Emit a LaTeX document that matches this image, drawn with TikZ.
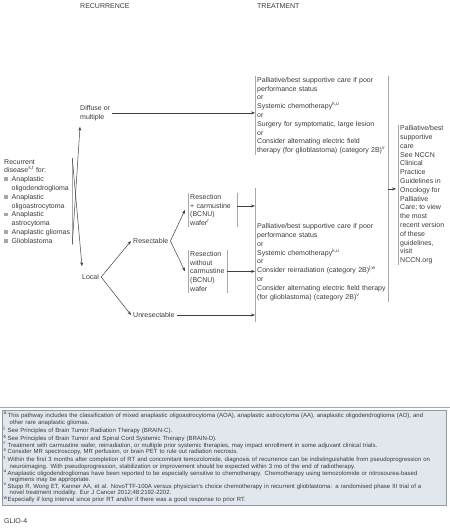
\documentclass[tikz,border=0pt]{standalone}
\usepackage{fontspec}
\setmainfont{Liberation Sans}
\usetikzlibrary{arrows.meta}
\definecolor{txtgray}{HTML}{3A3A3A}
\definecolor{bargray}{HTML}{A8A8A8}
\definecolor{fnfill}{HTML}{E2E7EE}
\definecolor{fnline}{HTML}{8E9AA6}
\hyphenpenalty=10000
\exhyphenpenalty=10000
\newcommand{\bul}{\makebox[7.5pt][l]{\textcolor{bargray}{\rule[0.6pt]{3.6pt}{3.6pt}}}}
\newcommand{\fm}[1]{\makebox[4pt][l]{\textsuperscript{#1}}}
\tikzset{
  lbl/.style={font=\fontsize{7}{8.8}\selectfont, text=txtgray, align=left, inner sep=0pt, anchor=north west},
  box/.style={lbl, inner xsep=2pt, inner ysep=1pt},
  bar/.style={draw=bargray, line width=0.6pt},
  arr/.style={draw=black!75, line width=0.5pt, -{Stealth[length=4pt,width=3pt]}},
}
\begin{document}
\begin{tikzpicture}[x=1pt,y=-1pt]
  \useasboundingbox (0,0) rectangle (450,528);
  % HEADERS
  \node[lbl] (rec) at (80,3.5) {RECURRENCE};
  \node[lbl] (trt) at (257,3.5) {TREATMENT};

  % RECURRENCE COLUMN
  \node[box] (rd) at (2,158) {Recurrent\\disease\textsuperscript{s,t} for:\\
    \bul Anaplastic\\\hspace*{7.5pt}oligodendroglioma\\\bul Anaplastic\\\hspace*{7.5pt}oligoastrocytoma\\
    \bul Anaplastic\\\hspace*{7.5pt}astrocytoma\\\bul Anaplastic gliomas\\\bul Glioblastoma};
  \node[box] (diffuse) at (78,104) {Diffuse or\\multiple};
  \node[lbl, anchor=west, inner sep=2pt] (local) at (80,277) {Local};
  \node[lbl, anchor=west, inner sep=2pt] (res) at (131,241) {Resectable};
  \node[lbl, anchor=west, inner sep=2pt] (unres) at (131,315) {Unresectable};
  \node[box, text width=45pt] (rA) at (188,193) {Resection\\+ carmustine\\(BCNU)\\wafer\textsuperscript{r}};
  \node[box, text width=35pt] (rB) at (188,250) {Resection\\without\\carmustine\\(BCNU)\\wafer};

  % TREATMENT COLUMN
  \node[box, text width=129pt] (tr1) at (255,76) {Palliative/best supportive care if poor\\
    performance status\\or\\Systemic chemotherapy\textsuperscript{k,u}\\or\\Surgery for symptomatic, large lesion\\
    or\\Consider alternating electric field\\therapy (for glioblastoma) (category 2B)\textsuperscript{v}};
  \node[box, text width=129pt] (tr2) at (255,222.5) {Palliative/best supportive care if poor\\
    performance status\\or\\Systemic chemotherapy\textsuperscript{k,u}\\or\\Consider reirradiation (category 2B)\textsuperscript{j,w}\\
    or\\Consider alternating electric field therapy\\(for glioblastoma) (category 2B)\textsuperscript{v}};
  \node[box] (fin) at (398,124.5) {Palliative/best\\supportive\\care\\See NCCN\\Clinical\\Practice\\Guidelines in\\
    Oncology for\\Palliative\\Care; to view\\the most\\recent version\\of these\\guidelines,\\visit\\NCCN.org};

  % DRAW BARS
  \path[bar] (rd.north east) -- (rd.south east);
  \path[bar] (rA.north west) -- (rA.south west); \path[bar] (rA.north east) -- (rA.south east);
  \path[bar] (rB.north west) -- (rB.south west); \path[bar] (rB.north east) -- (rB.south east);
  \path[bar] (tr1.north west) -- (tr1.south west);
  \path[bar] (255,188) -- (255,322);
  \path[bar] (tr1.north east) -- (tr2.south east);
  \path[bar] (fin.north west) -- (fin.south west);

  % DRAW ARROWS
  \path[arr] (rd.south east) -- ([shift={(2pt,-5pt)}]diffuse.south west);
  \path[arr] (rd.north east) -- ([shift={(2pt,6pt)}]local.north west);
  \path[arr] (diffuse.east) -- (diffuse.east -| tr1.west);
  \path[arr] (local.east) -- (res.west);
  \path[arr] (local.east) -- (unres.west);
  \path[arr] (res.east) -- ([xshift=-3pt]rA.west);
  \path[arr] (res.east) -- ([xshift=-3pt]rB.west);
  \path[arr] ([yshift=4pt]rA.east) -- ([yshift=4pt]rA.east -| tr2.west);
  \path[arr] (rB.east) -- (rB.east -| tr2.west);
  \path[arr] (unres.east) -- (unres.east -| tr2.west);
  \path[arr] ([yshift=6pt]fin.west -| tr1.east) -- ([shift={(-2pt,6pt)}]fin.west);

  % FOOTNOTES
  \draw[bargray, line width=0.6pt] (0,407) -- (450,407);
  \node[lbl, font=\fontsize{6}{6.6}\selectfont, draw=fnline, fill=fnfill, inner xsep=1.5pt, inner ysep=2pt, text width=441pt]
    (fn) at (2,410) {\fm{a}This pathway includes the classification of mixed anaplastic oligoastrocytoma (AOA), anaplastic astrocytoma (AA), anaplastic oligodendroglioma (AO), and\\
    \hspace*{6pt}other rare anaplastic gliomas.\\
    \fm{j}See Principles of Brain Tumor Radiation Therapy (BRAIN-C).\\
    \fm{k}See Principles of Brain Tumor and Spinal Cord Systemic Therapy (BRAIN-D).\\
    \fm{r}Treatment with carmustine wafer, reirradiation, or multiple prior systemic therapies, may impact enrollment in some adjuvant clinical trials.\\
    \fm{s}Consider MR spectroscopy, MR perfusion, or brain PET to rule out radiation necrosis.\\
    \fm{t}Within the first 3 months after completion of RT and concomitant temozolomide, diagnosis of recurrence can be indistinguishable from pseudoprogression on\\
    \hspace*{6pt}neuroimaging. With pseudoprogression, stabilization or improvement should be expected within 3 mo of the end of radiotherapy.\\
    \fm{u}Anaplastic oligodendrogliomas have been reported to be especially sensitive to chemotherapy. Chemotherapy using temozolomide or nitrosourea-based\\
    \hspace*{6pt}regimens may be appropriate.\\
    \fm{v}Stupp R, Wong ET, Kanner AA, et al. NovoTTF-100A versus physician's choice chemotherapy in recurrent glioblastoma: a randomised phase III trial of a\\
    \hspace*{6pt}novel treatment modality. Eur J Cancer 2012;48:2192-2202.\\
    \fm{w}Especially if long interval since prior RT and/or if there was a good response to prior RT.};
  \node[lbl] (page) at (4,518.5) {GLIO-4};
\end{tikzpicture}
\end{document}
